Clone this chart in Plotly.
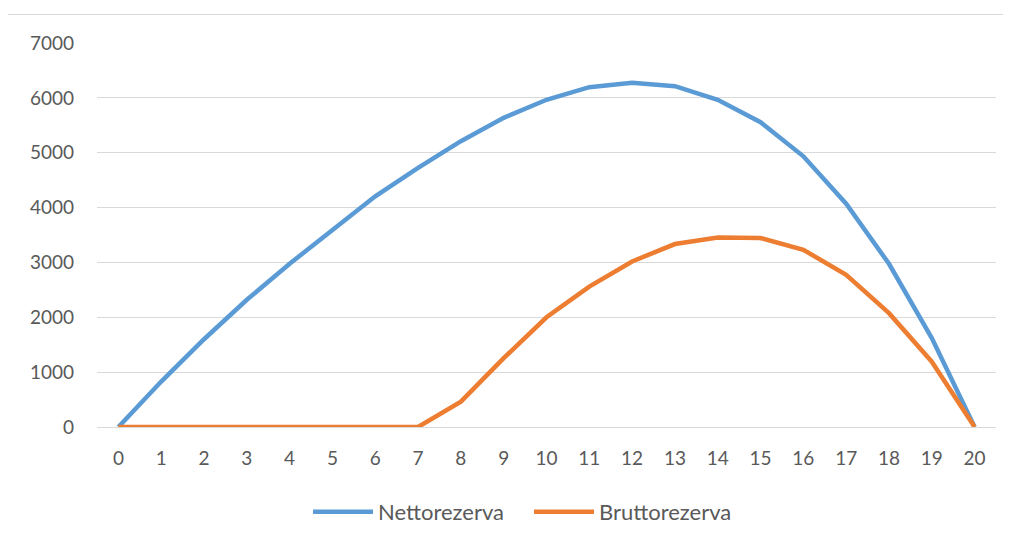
import plotly.graph_objects as go

years = list(range(0, 21))
netto = [0, 828, 1600, 2319, 2976, 3597, 4206, 4723, 5210, 5636, 5965,
         6195, 6274, 6213, 5965, 5556, 4935, 4070, 2975, 1620, 0]
brutto = [0, 0, 0, 0, 0, 0, 0, 0, 463, 1254, 2000,
          2560, 3018, 3335, 3456, 3445, 3230, 2775, 2075, 1190, 0]
y_ticks = [0, 1000, 2000, 3000, 4000, 5000, 6000, 7000]

# page places the figure at an 8px offset (default body margin)
OFF = 8
W, H = 1011 - OFF, 540 - OFF
# target pixel positions in the page
PL, PR, PT, PB = 97, 996, 43, 427
L, T = PL - OFF, PT - OFF
R = W - (PR - OFF)
B = H - (PB - OFF)
pw, ph = W - L - R, H - T - B

font_family = "Lato, 'Open Sans', sans-serif"
txt_col = "#595959"

fig = go.Figure()
fig.add_trace(go.Scatter(x=years, y=netto, mode="lines", name="Nettorezerva",
                         line=dict(color="#5B9BD5", width=4.5)))
fig.add_trace(go.Scatter(x=years, y=brutto, mode="lines", name="Bruttorezerva",
                         line=dict(color="#ED7D31", width=4.5)))

def px2x(p):
    return (p - PL) / pw

def px2y(p):
    return (PB - p) / ph

fig.update_layout(
    width=W, height=H,
    margin=dict(l=L, r=R, t=T, b=B, autoexpand=False),
    paper_bgcolor="white", plot_bgcolor="white",
    font=dict(family=font_family, size=19, color=txt_col),
    xaxis=dict(range=[-0.5, 20.5], tickmode="array", tickvals=years,
               ticktext=[str(v) for v in years], showgrid=False,
               zeroline=False, showline=False, ticks="", ticklabelstandoff=18,
               tickfont=dict(size=19, color=txt_col), automargin=False),
    yaxis=dict(range=[0, 7000], tickmode="array", tickvals=y_ticks,
               ticktext=[str(v) for v in y_ticks], showgrid=True,
               gridcolor="#D9D9D9", gridwidth=1, zeroline=True,
               zerolinecolor="#D9D9D9", zerolinewidth=1, showline=False,
               ticks="", ticklabelstandoff=22,
               tickfont=dict(size=19, color=txt_col), automargin=False),
    legend=dict(orientation="h", x=px2x(529), xanchor="center",
                y=px2y(512), yanchor="middle",
                font=dict(size=22, color=txt_col),
                itemwidth=60, entrywidth=146, entrywidthmode="pixels",
                tracegroupgap=0, bgcolor="rgba(0,0,0,0)"),
    showlegend=True,
    shapes=[dict(type="rect", xref="paper", yref="paper",
                 x0=px2x(4.5), x1=px2x(1030), y0=px2y(560), y1=px2y(14.5),
                 line=dict(color="#D9D9D9", width=1), fillcolor="rgba(0,0,0,0)",
                 layer="below")],
)

fig.write_html("out.html")
